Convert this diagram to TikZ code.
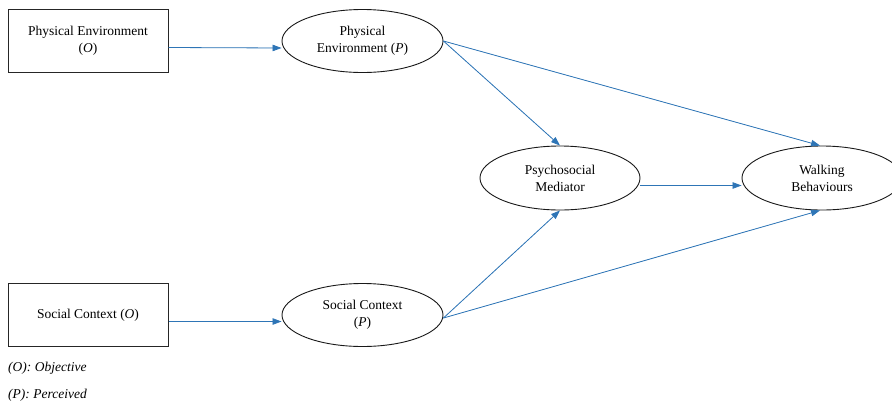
\documentclass[tikz,border=0pt]{standalone}
\usepackage{fontspec}
\setmainfont{Liberation Serif}
\usetikzlibrary{arrows.meta,shapes.geometric}
\definecolor{linkblue}{RGB}{46,117,182}
\begin{document}
\begin{tikzpicture}[x=1pt,y=-1pt,
  txt/.style={font=\fontsize{13.5}{17}\selectfont, align=center, inner sep=0pt},
  obsbox/.style={txt, draw=black!85, line width=1pt, minimum width=160pt, minimum height=63pt},
  latent/.style={txt, ellipse, draw=black!90, line width=0.9pt, minimum width=161pt, minimum height=63pt},
  arr/.style={draw=linkblue, line width=0.8pt, -{Triangle[length=9pt,width=6.5pt]}, fill=linkblue},
  legend/.style={font=\fontsize{13.5}{15}\selectfont\itshape, anchor=base west, inner sep=0pt}]
\useasboundingbox (0,0) rectangle (892,400);

% observed measures
\node[obsbox] (peo) at (88,40.5) {Physical Environment\\(\textit{O})};
\node[obsbox] (sco) at (88,315) {Social Context (\textit{O})};

% perceived and outcome constructs
\node[latent] (pep) at (362.5,41) {Physical\\Environment (\textit{P})};
\node[latent] (scp) at (362.5,315) {Social Context\\(\textit{P})};
\node[latent, minimum width=160pt, minimum height=64pt] (med) at (560,178) {Psychosocial\\Mediator};
\node[latent, minimum width=160pt, minimum height=64pt] (walk) at (822,178) {Walking\\Behaviours};

% paths
\draw[arr] ([yshift=-7pt]peo.east) -- ([yshift=-7pt]pep.west);
\draw[arr] ([yshift=-6.5pt]sco.east) -- ([yshift=-6.5pt]scp.west);
\draw[arr] ([yshift=-7.5pt]med.east) -- ([yshift=-7.5pt]walk.west);
\draw[arr] (pep.east) -- (med.north);
\draw[arr] (pep.east) -- ([xshift=-2pt]walk.north);
\draw[arr] ([yshift=-3pt]scp.east) -- (med.south);
\draw[arr] ([yshift=-3pt]scp.east) -- ([xshift=-2pt]walk.south);

% key
\node[legend] (keyo) at (8,371.5) {(O): Objective};
\node[legend] (keyp) at (8,398) {(P): Perceived};
\end{tikzpicture}
\end{document}
